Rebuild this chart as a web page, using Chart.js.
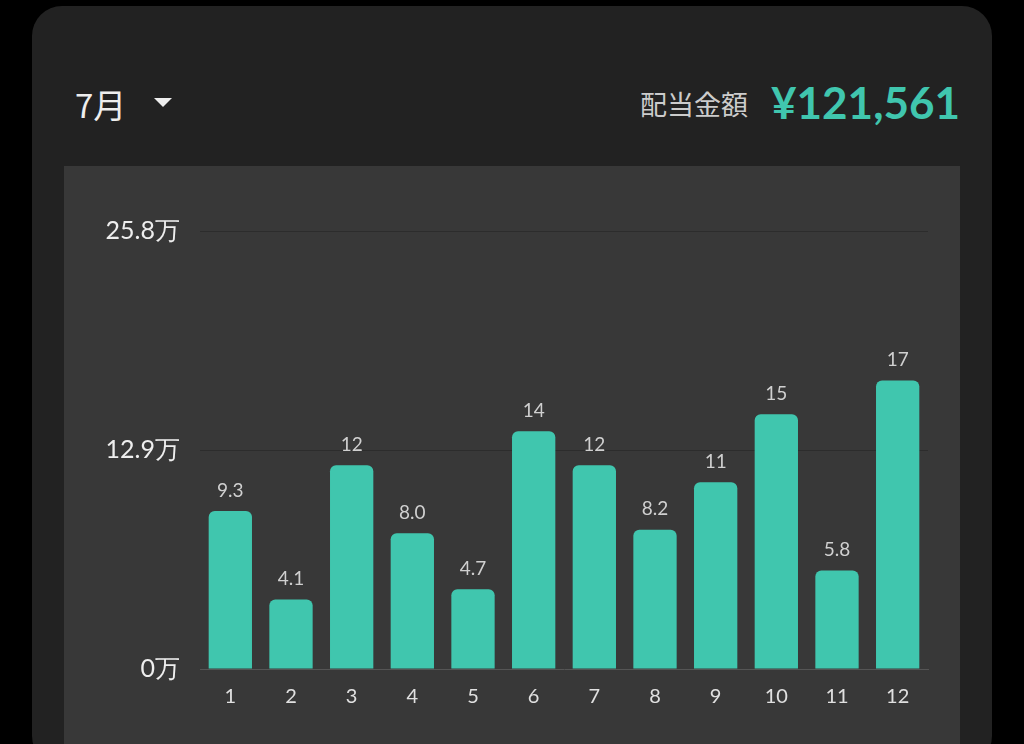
<!DOCTYPE html>
<html><head><meta charset="utf-8">
<script src="https://cdn.jsdelivr.net/npm/chart.js@4"></script>
<style>
body{margin:0;background:#000;width:1024px;height:744px;overflow:hidden;font-family:Lato,"Noto Sans CJK JP",sans-serif;}
#card{position:absolute;left:32px;top:6px;width:960px;height:760px;background:#222;border-radius:30px;}
#month{position:absolute;left:75px;top:80px;color:#eee;font-size:33px;font-family:"Noto Sans CJK JP",sans-serif;}
#tri{position:absolute;left:154px;top:98px;width:0;height:0;border-left:9px solid transparent;border-right:9px solid transparent;border-top:9px solid #eee;}
#lbl{position:absolute;left:640px;top:84px;color:#ccc;font-size:27px;font-family:"Noto Sans CJK JP",sans-serif;}
#amt{position:absolute;right:64px;top:76px;color:#40c6ae;font-size:44px;font-weight:bold;font-family:Lato,sans-serif;}
#panel{position:absolute;left:64px;top:166px;width:896px;height:578px;background:#383838;}
</style></head><body>
<div id="card"></div>
<div id="month">7月</div><div id="tri"></div>
<div id="lbl">配当金額</div><div id="amt">¥121,561</div>
<div id="panel"><canvas id="c" width="896" height="578"></canvas></div>
<script>
const months=["1","2","3","4","5","6","7","8","9","10","11","12"];
const values=[9.3,4.1,12.0,8.0,4.7,14.0,12.0,8.2,11.0,15.0,5.8,17.0];
const yTicks=[0,12.9,25.8];
const valueLabels={id:'vl',afterDatasetsDraw(ch){const c=ch.ctx;c.save();c.fillStyle='#d0d0d0';c.font='19px Lato';c.textAlign='center';c.textBaseline='bottom';
ch.getDatasetMeta(0).data.forEach((b,i)=>{const v=values[i];c.fillText(v<10?v.toFixed(1):Math.round(v).toString(),b.x,b.y-11);});c.restore();}};
new Chart(document.getElementById('c'),{type:'bar',
data:{labels:months,datasets:[{data:values,backgroundColor:'#40c6ae',borderRadius:{topLeft:6,topRight:6},borderSkipped:'bottom',categoryPercentage:0.85,barPercentage:0.84}]},
options:{responsive:false,animation:false,layout:{padding:{top:65,right:32,left:0,bottom:0}},
plugins:{legend:{display:false},tooltip:{enabled:false}},
scales:{x:{grid:{display:false},border:{color:'#555'},ticks:{color:'#e0e0e0',font:{size:20,family:'Lato'},padding:8},afterFit(s){s.height=75;}},
y:{min:0,max:25.8,afterBuildTicks(s){s.ticks=yTicks.map(v=>({value:v}));},afterFit(s){s.width=136;},
grid:{color:'#2c2c2c',drawTicks:false},border:{display:false},
ticks:{color:'#eee',font:{size:25,family:'Lato'},padding:20,callback:v=>v+'万'}}}},
plugins:[valueLabels]});
</script></body></html>
